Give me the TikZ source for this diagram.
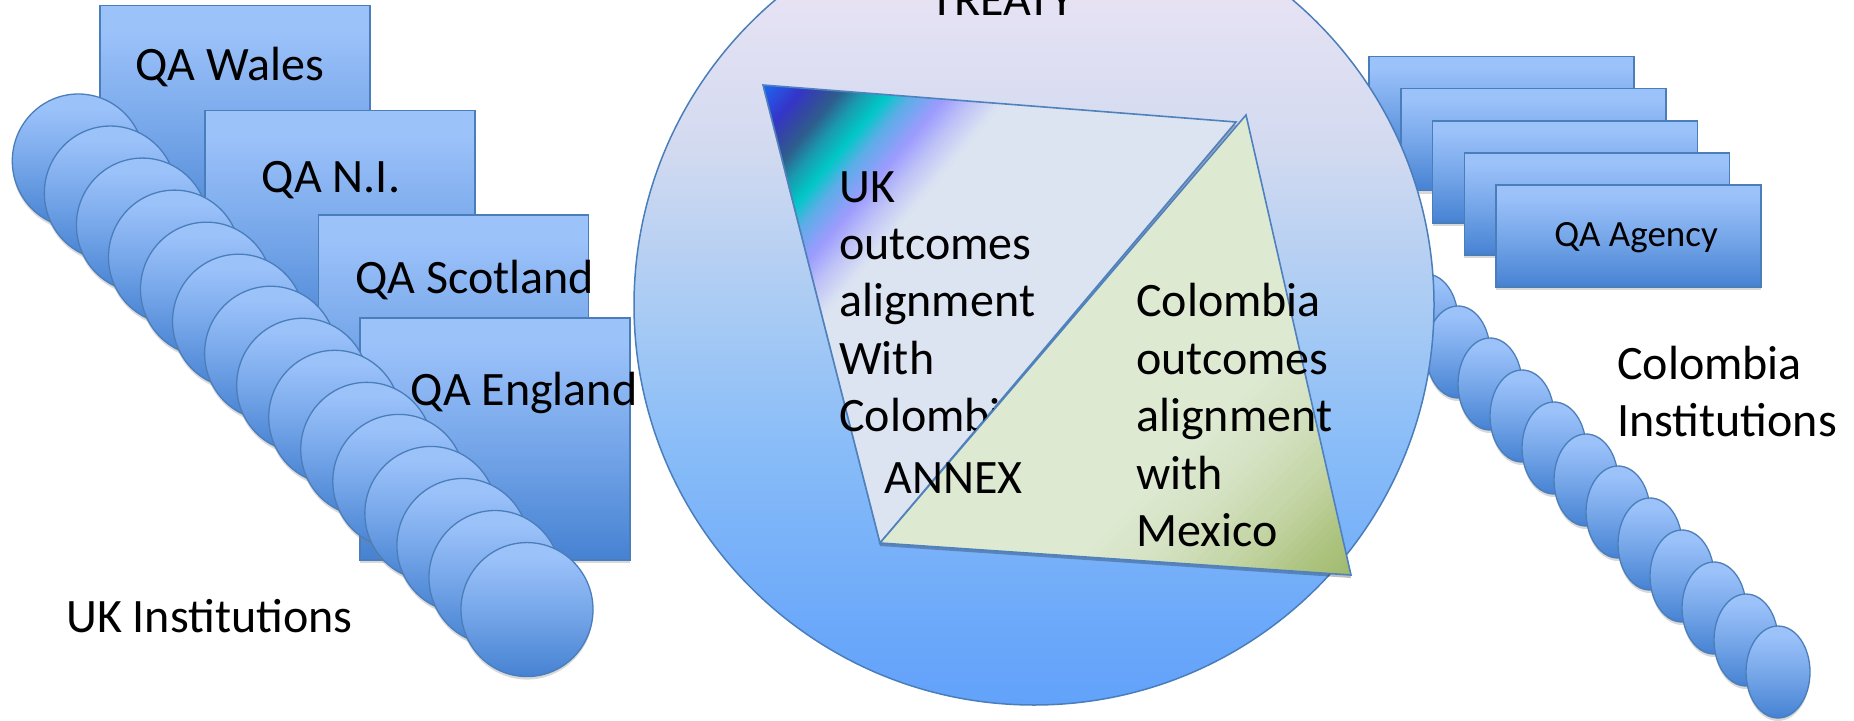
\documentclass[tikz,border=0pt]{standalone}
\usepackage{fontspec}
\setmainfont{Carlito}
\usetikzlibrary{shadows}
\definecolor{bxtop}{HTML}{9CC2FA}
\definecolor{bxmid}{HTML}{78A8EA}
\definecolor{bxbot}{HTML}{4682D2}
\definecolor{edgeblue}{HTML}{4A7EBB}
\definecolor{triedge}{HTML}{4F81BD}
\definecolor{cz0}{HTML}{62A2FA}
\definecolor{cz1}{HTML}{68A6FA}
\definecolor{cz2}{HTML}{88BCF8}
\definecolor{cz3}{HTML}{A6CAF4}
\definecolor{cz4}{HTML}{D2DAF0}
\definecolor{cz5}{HTML}{E6E2F4}
\definecolor{cz6}{HTML}{EAE4F4}
\definecolor{uu0}{HTML}{1A6AF0}
\definecolor{uu1}{HTML}{2850E0}
\definecolor{uu2}{HTML}{3535C8}
\definecolor{uu3}{HTML}{334AA0}
\definecolor{uu4}{HTML}{2E5E8E}
\definecolor{uu5}{HTML}{1A9AAE}
\definecolor{uu6}{HTML}{00C8C8}
\definecolor{uu7}{HTML}{5AAEE6}
\definecolor{uu8}{HTML}{9B9BFF}
\definecolor{uu9}{HTML}{BEC2F6}
\definecolor{uu10}{HTML}{DCE4F2}
\definecolor{gg0}{HTML}{DEE9D2}
\definecolor{gg1}{HTML}{D4E2C2}
\definecolor{gg2}{HTML}{C3D4A3}
\definecolor{gg3}{HTML}{AEC481}
\definecolor{gg4}{HTML}{A0BA6E}
\pgfdeclareverticalshading{boxshade}{100bp}{color(0bp)=(bxbot); color(25bp)=(bxbot); color(50bp)=(bxmid); color(70bp)=(bxtop); color(100bp)=(bxtop)}
\pgfdeclareverticalshading{bigshade}{100bp}{color(0bp)=(cz0); color(25bp)=(cz0); color(28.4bp)=(cz1); color(40.9bp)=(cz2); color(49bp)=(cz3); color(59.7bp)=(cz4); color(69bp)=(cz5); color(75bp)=(cz6); color(100bp)=(cz6)}
\begin{document}
\begin{tikzpicture}[x=1pt,y=-1pt,
  lbl/.style={inner sep=0pt, font=\fontsize{48}{58}\selectfont},
  agencylbl/.style={inner sep=0pt, font=\fontsize{37}{44}\selectfont},
  qabox/.style={shading=boxshade, draw=edgeblue, line width=1.6pt, drop shadow={shadow xshift=0pt, shadow yshift=-3pt, opacity=0.3}},
  bead/.style={shading=boxshade, draw=edgeblue, line width=1.3pt, drop shadow={shadow xshift=0pt, shadow yshift=-3pt, opacity=0.3}},
  tri/.style={draw=triedge, line width=1.6pt, line join=miter},
  trishadow/.style={fill=black, opacity=0.25}]
\useasboundingbox (0,0) rectangle (1854,720);
\clip (0,0) rectangle (1854,720);
\fill[white] (0,0) rectangle (1854,720);

% ---- UK side: QA boxes
\shade[qabox] (100,5.5) rectangle ++(270,242);
\shade[qabox] (205,110.6) rectangle ++(270,242);
\shade[qabox] (318.6,215) rectangle ++(270,242);
\shade[qabox] (360,318) rectangle ++(270,242);

% ---- UK institutions chain
\foreach \k in {0,...,14}
  \shade[bead] ({78.3+32.05*\k},{161+32.04*\k}) ellipse [x radius=66pt, y radius=67pt];

\node[lbl, anchor=base] (twales) at (230,80) {QA Wales};
\node[lbl, anchor=base] (tni) at (331,192) {QA N.I.};
\node[lbl, anchor=base] (tscot) at (474.5,293) {QA Scotland};
\node[lbl, anchor=base] (teng) at (524,405) {QA England};
\node[lbl, anchor=base west] (ukinst) at (66,632) {UK Institutions};

% ---- Colombia institutions chain
\foreach \j in {0,...,11}
  \shade[bead] ({1426+32*\j},{320+32*\j}) ellipse [x radius=32pt, y radius=46pt];

% ---- Colombia QA agency boxes
\foreach \j in {0,...,4}
  \shade[qabox] ({1369+31.8*\j},{56.5+32.1*\j}) rectangle ++(265,102);

% ---- Treaty circle
\shade[shading=bigshade, draw=edgeblue, line width=1.5pt] (1034,305) circle [radius=400pt];
\node[lbl, anchor=base] (treaty) at (1002.5,16) {TREATY};

% ---- triangles
\coordinate (ua) at (763,85);
\coordinate (ub) at (1236,122);
\coordinate (uc) at (880,543);
\coordinate (ct) at (1246,115);
\coordinate (cr) at (1351,575);

% UK triangle with its corner gradient
\fill[trishadow] ([yshift=-3pt]ua) -- ([yshift=-3pt]ub) -- ([yshift=-3pt]uc) -- cycle;
\begin{scope}
  \clip (ua) -- (ub) -- (uc) -- cycle;
  \fill[uu10] (ua) -- (ub) -- (uc) -- cycle;
  \begin{scope}[rotate around={-40:(ua)}]
    \foreach \da/\db/\ca/\cb in {-20/0/uu0/uu0, 0/15/uu0/uu1, 15/33/uu1/uu2, 33/50/uu2/uu3, 50/64/uu3/uu4, 64/82/uu4/uu5, 82/102/uu5/uu6, 102/120/uu6/uu7, 120/147/uu7/uu8, 147/170/uu8/uu9, 170/195/uu9/uu10}{
      \foreach \s in {0,...,7}{
        \pgfmathsetmacro\xa{763+\da+(\db-\da)*\s/8}
        \pgfmathsetmacro\xb{763+\da+(\db-\da)*(\s+1)/8+0.8}
        \pgfmathsetmacro\pc{100-(\s+0.5)*12.5}
        \fill[\ca!\pc!\cb] (\xa,-320) -- (\xb,-320) -- (\xb,490) -- (\xa,490) -- cycle;
      }
    }
  \end{scope}
\end{scope}
\draw[tri] (ua) -- (ub) -- (uc) -- cycle;

\foreach \t/\yy [count=\i] in {UK/202, outcomes/259.4, alignment/316.8, With/374.2, Colombia/431.6}
  \node[lbl, anchor=base west] (ukl\i) at (839,\yy) {\t};

% Colombia triangle with its corner gradient
\fill[trishadow] ([yshift=-3pt]ct) -- ([yshift=-3pt]cr) -- ([yshift=-3pt]uc) -- cycle;
\begin{scope}
  \clip (ct) -- (cr) -- (uc) -- cycle;
  \fill[gg0] (ct) -- (cr) -- (uc) -- cycle;
  \begin{scope}[rotate around={-45:(cr)}]
    \foreach \da/\db/\ca/\cb in {210/150/gg0/gg1, 150/90/gg1/gg2, 90/40/gg2/gg3, 40/0/gg3/gg4, 0/-20/gg4/gg4}{
      \foreach \s in {0,...,7}{
        \pgfmathsetmacro\xa{1351-\da+(\da-\db)*\s/8}
        \pgfmathsetmacro\xb{1351-\da+(\da-\db)*(\s+1)/8+0.8}
        \pgfmathsetmacro\pc{100-(\s+0.5)*12.5}
        \fill[\ca!\pc!\cb] (\xa,150) -- (\xb,150) -- (\xb,1000) -- (\xa,1000) -- cycle;
      }
    }
  \end{scope}
\end{scope}
\draw[tri] (ct) -- (cr) -- (uc) -- cycle;

\node[lbl, anchor=base west] (annex) at (884,493.4) {ANNEX};
\foreach \t/\yy [count=\i] in {Colombia/316.8, outcomes/374.2, alignment/431.6, with/489, Mexico/546.4}
  \node[lbl, anchor=base west] (col\i) at (1136,\yy) {\t};

% ---- right labels
\node[agencylbl, anchor=base] (agency) at (1636,246.5) {QA Agency};
\node[lbl, anchor=base west] (colinst1) at (1617,379.5) {Colombia};
\node[lbl, anchor=base west] (colinst2) at (1617,436) {Institutions};
\end{tikzpicture}
\end{document}
